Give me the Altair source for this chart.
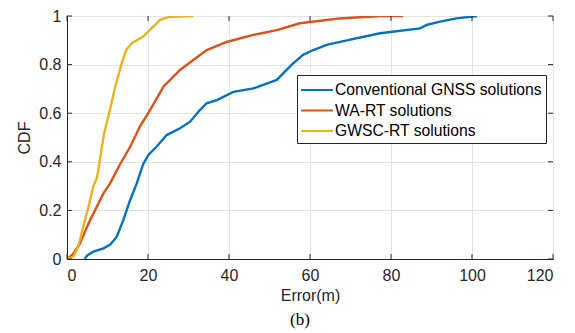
import altair as alt
import pandas as pd

series_names = ["Conventional GNSS solutions", "WA-RT solutions", "GWSC-RT solutions"]
series_colors = ["#0072BD", "#D95319", "#EDB120"]

blue_x = [4.4, 5.0, 6.5, 9.0, 10.6, 12.3, 13.9, 15.6, 17.2, 18.8, 20.1, 22.1, 24.6, 27.9, 30.4,
          32.8, 34.5, 37.0, 41.1, 46.0, 51.8, 55.5, 58.3, 60.8, 64.1, 69.1, 77.3, 87.2, 88.8,
          92.1, 96.2, 101.2]
blue_y = [0.0, 0.015, 0.03, 0.044, 0.058, 0.092, 0.16, 0.243, 0.31, 0.39, 0.428, 0.462, 0.51,
          0.538, 0.565, 0.613, 0.641, 0.654, 0.688, 0.702, 0.737, 0.80, 0.84, 0.86, 0.881, 0.90,
          0.929, 0.949, 0.963, 0.977, 0.99, 1.0]

red_x = [0.0, 1.5, 3.2, 5.7, 9.0, 10.6, 13.1, 15.6, 18.0, 20.5, 23.8, 27.9, 31.2, 34.5, 39.4,
         46.0, 51.8, 57.5, 67.4, 77.3, 83.0]
red_y = [0.0, 0.02, 0.064, 0.16, 0.27, 0.31, 0.39, 0.462, 0.545, 0.613, 0.709, 0.778, 0.819,
         0.86, 0.893, 0.922, 0.942, 0.97, 0.99, 1.0, 1.0]

yellow_x = [0.0, 1.6, 2.4, 3.2, 4.0, 5.3, 6.5, 7.3, 7.7, 8.6, 9.2, 10.6, 11.9, 13.5, 14.6,
            16.0, 18.8, 21.3, 23.0, 25.4, 31.2]
yellow_y = [0.0, 0.01, 0.037, 0.078, 0.133, 0.215, 0.30, 0.33, 0.36, 0.46, 0.52, 0.613, 0.709,
            0.805, 0.86, 0.888, 0.915, 0.956, 0.984, 0.997, 1.0]

x_ticks = [0, 20, 40, 60, 80, 100, 120]
y_ticks = [0, 0.2, 0.4, 0.6, 0.8, 1.0]

rows = []
for name, xs, ys in zip(series_names, [blue_x, red_x, yellow_x], [blue_y, red_y, yellow_y]):
    for i, (a, b) in enumerate(zip(xs, ys)):
        rows.append({"series": name, "err": a, "cdf": b, "order": i})
df = pd.DataFrame(rows)

W, H = 486, 243
FONT = "Liberation Sans"
AX = "#262626"
FS = 16

xscale = alt.Scale(domain=[0, 120], nice=False, zero=False)
yscale = alt.Scale(domain=[0, 1], nice=False, zero=False)

lines = alt.Chart(df).mark_line(strokeWidth=2.4, clip=True).encode(
    x=alt.X("err:Q", scale=xscale,
            axis=alt.Axis(values=x_ticks, title="Error(m)", ticks=False, domain=True,
                          domainColor=AX, domainWidth=1,
                          grid=True, gridColor="#e3e3e3", labelFontSize=FS, labelFont=FONT,
                          labelColor=AX, labelPadding=8, titleFont=FONT, titleFontSize=FS,
                          titleFontWeight="normal", titleColor=AX, titlePadding=4)),
    y=alt.Y("cdf:Q", scale=yscale,
            axis=alt.Axis(values=y_ticks, title="CDF", ticks=False, domain=True,
                          domainColor=AX, domainWidth=1,
                          grid=True, gridColor="#e3e3e3", labelFontSize=FS, labelFont=FONT,
                          labelColor=AX, labelPadding=6, titleFont=FONT, titleFontSize=FS,
                          titleFontWeight="normal", titleColor=AX, titlePadding=6,
                          labelExpr="datum.value == 0 ? '0' : datum.value == 1 ? '1' : format(datum.value, '.1f')")),
    color=alt.Color("series:N",
                    scale=alt.Scale(domain=series_names, range=series_colors),
                    legend=alt.Legend(title=None, orient="none", legendX=230, legendY=59,
                                      symbolType="M-1.6,0L1.6,0", symbolSize=400,
                                      symbolStrokeWidth=2, symbolOffset=5,
                                      labelFontSize=15.7, labelFont=FONT, labelColor="#000000",
                                      labelLimit=400, labelOffset=7, rowPadding=1.5,
                                      padding=4, strokeColor=AX, fillColor="white",
                                      cornerRadius=0)),
    order="order:Q",
)

xt = pd.DataFrame({"t": x_ticks})
yt = pd.DataFrame({"t": y_ticks})

xtick_bottom = alt.Chart(xt).mark_rule(color=AX, strokeWidth=1).encode(
    x=alt.X("t:Q", scale=xscale), y=alt.value(H), y2=alt.value(H - 5))
xtick_top = alt.Chart(xt).mark_rule(color=AX, strokeWidth=1).encode(
    x=alt.X("t:Q", scale=xscale), y=alt.value(0), y2=alt.value(5))
ytick_left = alt.Chart(yt).mark_rule(color=AX, strokeWidth=1).encode(
    y=alt.Y("t:Q", scale=yscale), x=alt.value(0), x2=alt.value(5))
ytick_right = alt.Chart(yt).mark_rule(color=AX, strokeWidth=1).encode(
    y=alt.Y("t:Q", scale=yscale), x=alt.value(W), x2=alt.value(W - 5))

chart = alt.layer(lines, xtick_bottom, xtick_top, ytick_left, ytick_right).properties(
    width=W, height=H,
    autosize=alt.AutoSizeParams(type="none"),
    padding={"left": 67, "top": 16, "right": 22, "bottom": 74},
    title=alt.TitleParams(text="(b)", orient="bottom", font="Liberation Serif", fontSize=17,
                          fontWeight="normal", color="#000000", anchor="middle", dx=-10,
                          offset=9),
).configure_view(stroke=AX, strokeWidth=1).configure(background="white")

chart.save("out.html", embed_options={"renderer": "svg", "actions": False})
